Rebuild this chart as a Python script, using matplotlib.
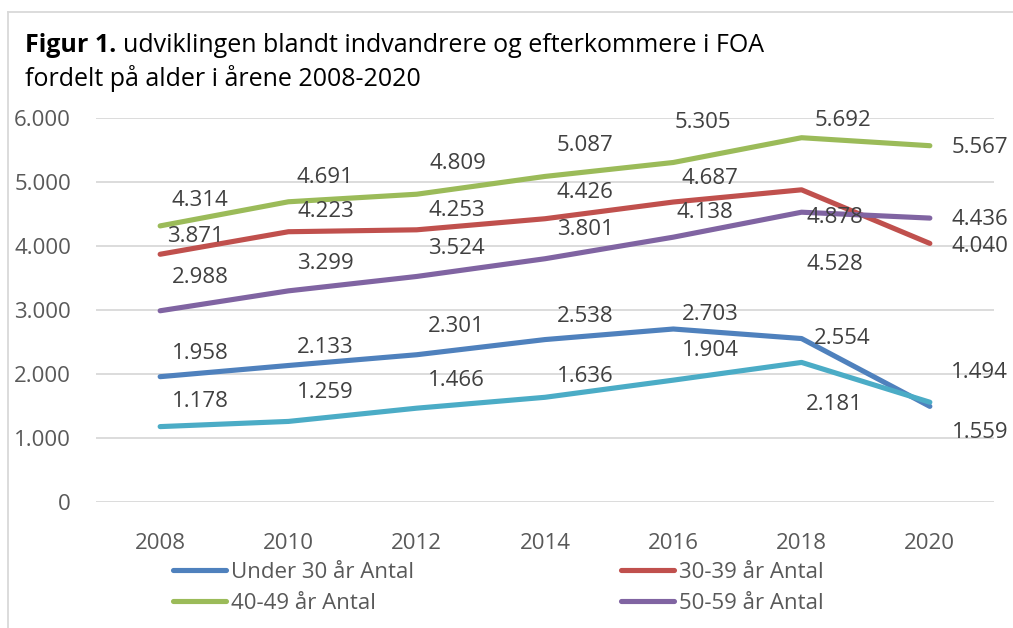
import matplotlib
matplotlib.use("Agg")
import matplotlib.pyplot as plt
from matplotlib.ticker import FuncFormatter

plt.rcParams['font.family'] = ['Open Sans', 'DejaVu Sans']

years = ["2008", "2010", "2012", "2014", "2016", "2018", "2020"]
under30 = [1958, 2133, 2301, 2538, 2703, 2554, 1494]
age30_39 = [3871, 4223, 4253, 4426, 4687, 4878, 4040]
age40_49 = [4314, 4691, 4809, 5087, 5305, 5692, 5567]
age50_59 = [2988, 3299, 3524, 3801, 4138, 4528, 4436]
age60plus = [1178, 1259, 1466, 1636, 1904, 2181, 1559]

names = ["Under 30 år Antal", "30-39 år Antal", "40-49 år Antal", "50-59 år Antal", "60+ år Antal"]
series = [under30, age30_39, age40_49, age50_59, age60plus]
colors = ["#4F81BD", "#C0504D", "#9BBB59", "#8064A2", "#4BACC6"]

# label offsets in pixels (dx, dy) per series, per point
offsets = [
    [(40, 23), (37, 18), (40, 28), (40, 23), (37, 15), (41, 0), (50, 34)],
    [(35, 18), (37, 20), (40, 19), (40, 26), (37, 24), (33, -28), (50, -3)],
    [(40, 25), (37, 24), (41, 31), (40, 31), (30, 40), (41, 17), (50, -2)],
    [(40, 33), (37, 27), (40, 28), (40, 29), (32, 25), (33, -52), (50, -1)],
    [(40, 25), (37, 29), (40, 28), (40, 21), (37, 30), (33, -42), (50, -30)],
]

W, H = 1013, 628
fig = plt.figure(figsize=(W / 100, H / 100), dpi=100)
ax = fig.add_axes([96 / W, (H - 502) / H, (994 - 96) / W, (502 - 118) / H])

x = list(range(len(years)))
lines = []
for vals, col, name in zip(series, colors, names):
    ln, = ax.plot(x, vals, color=col, lw=3.7, solid_capstyle='round', label=name, zorder=3)
    lines.append(ln)

for vals, offs in zip(series, offsets):
    for xi, v, (dx, dy) in zip(x, vals, offs):
        ax.annotate(f"{v:,}".replace(",", "."), (xi, v), xytext=(dx, dy),
                    textcoords='offset pixels', ha='center', va='center',
                    fontsize=16, color='#404040', zorder=4)

ax.set_xlim(-0.5, 6.5)
ax.set_ylim(0, 6000)
ax.set_yticks(range(0, 6001, 1000))
ax.yaxis.set_major_formatter(FuncFormatter(lambda v, p: f"{int(v):,}".replace(",", ".")))
ax.set_xticks(x)
ax.set_xticklabels(years)
ax.grid(axis='y', color='#D9D9D9', lw=1.3, zorder=0)
for s in ax.spines.values():
    s.set_visible(False)
ax.tick_params(axis='both', length=0, labelsize=16, labelcolor='#595959')
ax.tick_params(axis='y', pad=18)
ax.tick_params(axis='x', pad=22)

# border
fig.add_artist(plt.Line2D([8 / W, 8 / W], [0, 1 - 12 / H], color='#D9D9D9', lw=1.3))
fig.add_artist(plt.Line2D([8 / W, 1], [1 - 12 / H, 1 - 12 / H], color='#D9D9D9', lw=1.3))

# title
fig.canvas.draw()
r = fig.canvas.get_renderer()
t1 = fig.text(25 / W, 1 - 46 / H, "Figur 1.", fontsize=18, fontweight='bold', color='black', va='center')
bb = t1.get_window_extent(r)
fig.text(bb.x1 / W + 7 / W, 1 - 46 / H, "udviklingen blandt indvandrere og efterkommere i FOA",
         fontsize=18, color='black', va='center')
fig.text(25 / W, 1 - 78 / H, "fordelt på alder i årene 2008-2020", fontsize=18, color='black', va='center')

leg_kw = dict(frameon=False, fontsize=16, labelcolor='#595959', handlelength=2.4,
              handletextpad=0.2, labelspacing=0.45, borderpad=0, borderaxespad=0)
leg1 = fig.legend([lines[0], lines[2]], [names[0], names[2]], loc='upper left',
                  bbox_to_anchor=(173 / W, 1 - 562 / H), **leg_kw)
leg2 = fig.legend([lines[1], lines[3]], [names[1], names[3]], loc='upper left',
                  bbox_to_anchor=(621 / W, 1 - 562 / H), **leg_kw)

fig.savefig("out.png", dpi=100)
